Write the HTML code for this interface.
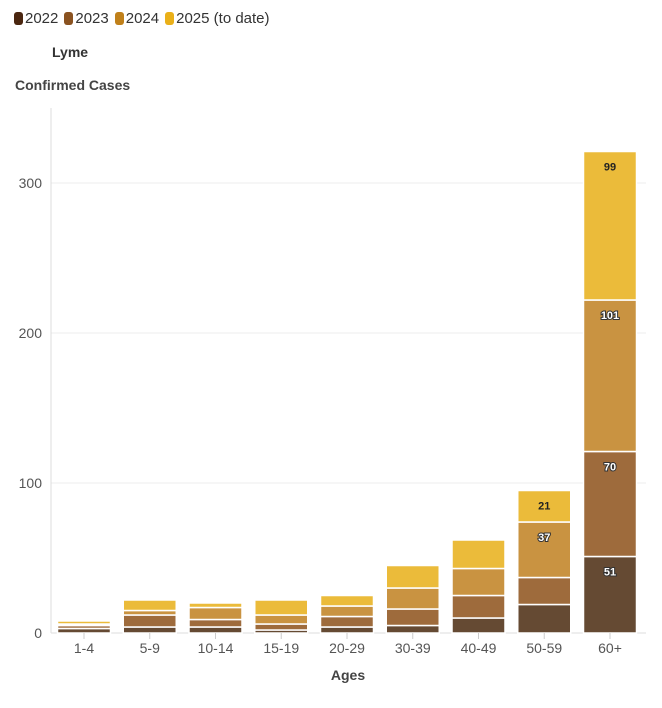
<!DOCTYPE html>
<html><head><meta charset="utf-8"><style>
body{margin:0;background:#fff;font-family:"Liberation Sans",sans-serif;width:662px;height:708px;overflow:hidden;position:relative}
.leg{position:absolute;top:10px;left:14px;font-size:15px;color:#333;display:flex;gap:6px;align-items:center}
.sw{display:inline-block;width:9px;height:13px;border-radius:3px;margin-right:2px;vertical-align:-2px}
</style></head><body>
<div class="leg">
<span><span class="sw" style="background:#4a2610"></span>2022</span>
<span><span class="sw" style="background:#8a5220"></span>2023</span>
<span><span class="sw" style="background:#c0801a"></span>2024</span>
<span><span class="sw" style="background:#eab019"></span>2025 (to date)</span>
</div>
<div style="position:absolute;left:52px;top:44px;font-size:14px;font-weight:bold;color:#333">Lyme</div>
<div style="position:absolute;left:15px;top:77px;font-size:14px;font-weight:bold;color:#444">Confirmed Cases</div>
<svg id="c" width="662" height="708" style="position:absolute;left:0;top:0"></svg>
<script>
const categories=["1-4","5-9","10-14","15-19","20-29","30-39","40-49","50-59","60+"];
const s2022=[3,4,4,2,4,5,10,19,51];
const s2023=[2,8,5,4,7,11,15,18,70];
const s2024=[1,3,8,6,7,14,18,37,101];
const s2025=[2,7,3,10,7,15,19,21,99];
const yTicks=[0,100,200,300];
const labeledCats=["50-59","60+"];
const series=[s2022,s2023,s2024,s2025];
const colors=["#654a33","#9e6b3c","#c99341","#ebbb3a"];
const names=["2022","2023","2024","2025"];
const svg=document.getElementById('c');const NS="http://www.w3.org/2000/svg";
const y=v=>633-v*1.5;
const x=i=>84+i*65.75;
const bw=53;
function el(t,a){const e=document.createElementNS(NS,t);for(const k in a)e.setAttribute(k,a[k]);svg.appendChild(e);return e;}
yTicks.forEach(t=>{
 if(t>0){const g=el('line',{x1:51,x2:646,y1:y(t),y2:y(t),stroke:'#ececec'});
 
 }
 const l=el('text',{x:42,y:y(t)+5,'text-anchor':'end','font-size':14,fill:'#555','font-family':'Liberation Sans,sans-serif'});l.textContent=t;
 
 
});
const ax=el('line',{x1:51,x2:51,y1:108,y2:633,stroke:'#ddd'});


const bx=el('line',{x1:51,x2:646,y1:633,y2:633,stroke:'#ddd'});


categories.forEach((c,i)=>{
 let base=0;
 series.forEach((s,k)=>{
  const v=s[i];const top=base+v;
  const r=el('rect',{x:x(i)-bw/2,y:y(top),width:bw,height:Math.max(0,y(base)-y(top)),fill:colors[k],stroke:'#fff','stroke-width':1.5});
  
  
  if(labeledCats.includes(c)&&v>=20){
   const dark=k===3;
   const t=el('text',{x:x(i),y:y(top)+19,'text-anchor':'middle','font-size':11,'font-weight':'bold',fill:dark?'#222':'#fff',stroke:dark?'none':'#333','stroke-width':2,'paint-order':'stroke','font-family':'Liberation Sans,sans-serif'});
   t.textContent=v;
   
   
  }
  base=top;
 });
 const tk=el('line',{x1:x(i),x2:x(i),y1:633,y2:639,stroke:'#ccc'});
 
 
 const l=el('text',{x:x(i),y:653,'text-anchor':'middle','font-size':14,fill:'#555','font-family':'Liberation Sans,sans-serif'});l.textContent=c;
 
 
});
const xt=el('text',{x:348,y:680,'text-anchor':'middle','font-size':14,'font-weight':'bold',fill:'#444','font-family':'Liberation Sans,sans-serif'});xt.textContent='Ages';


</script>
</body></html>
